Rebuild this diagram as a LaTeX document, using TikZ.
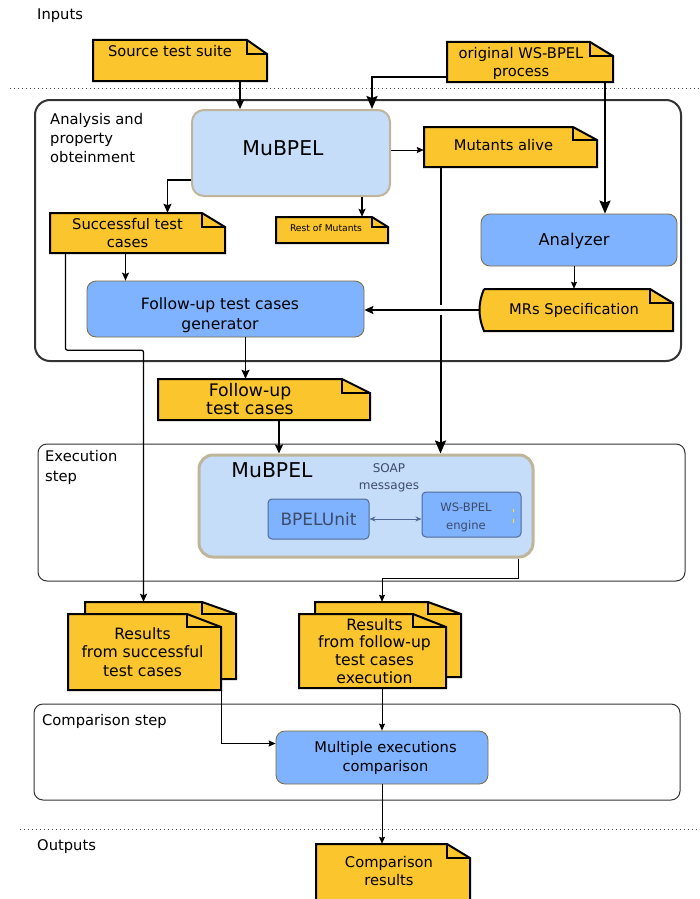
\documentclass[tikz,border=0pt]{standalone}
\usepackage{fontspec}
\setmainfont{DejaVu Sans}
\usetikzlibrary{arrows.meta,positioning,fit}

\definecolor{notey}{RGB}{251,197,45}
\definecolor{palebl}{RGB}{198,221,250}
\definecolor{tanbd}{RGB}{190,181,155}
\definecolor{boxbl}{RGB}{128,179,255}
\definecolor{boxbd}{RGB}{125,105,65}
\definecolor{unitbd}{RGB}{80,105,150}
\definecolor{unittx}{RGB}{60,75,105}

\tikzset{
  txt/.style={font=\fontsize{14.7}{18}\selectfont, align=center, inner sep=0pt},
  bigfont/.style={font=\fontsize{20.4}{24}\selectfont, inner sep=0pt},
  notebox/.style={fill=notey, draw=black, line width=2pt},
  notefold/.style={line width=1.5pt},
  pale/.style={draw=tanbd, fill=palebl, line width=2pt, rounded corners=12pt},
  bluebox/.style={txt, draw=boxbd, fill=boxbl, line width=0.8pt, rounded corners=9pt},
  unit/.style={draw=unitbd, fill=boxbl, line width=1pt, rounded corners=4pt, text=unittx, inner sep=0pt},
  soapt/.style={font=\fontsize{12}{17}\selectfont, align=center, inner sep=0pt, text=unittx},
  group/.style={draw=black!80, line width=1pt, rounded corners=9pt},
  sep/.style={black!70, line width=1pt, dash pattern=on 1pt off 3pt},
  thinarr/.style={-{Stealth[length=7pt,width=6pt,inset=1pt]}, line width=1pt},
  medarr/.style={-{Stealth[length=8pt,width=7pt,inset=1.5pt]}, line width=1.3pt},
  arr/.style={-{Stealth[length=9pt,width=8pt,inset=1.5pt]}, line width=1.6pt},
  thickarr/.style={-{Stealth[length=13pt,width=11pt,inset=2pt]}, line width=2pt}
}

% document with folded corner: [text opts]{name}{x1}{y1}{x2}{y2}{fold x}{fold y}{text}
\newcommand{\docnode}[9][]{%
  \filldraw[notebox] (#3,#4) -- ({#5-#7},#4) -- (#5,{#4+#8}) -- (#5,#6) -- (#3,#6) -- cycle;
  \draw[notefold] ({#5-#7},#4) -- ({#5-#7},{#4+#8}) -- (#5,{#4+#8});
  \node[fit={(#3,#4) (#5,#6)}, inner sep=0pt] (#2) {};
  \node[txt,#1] (#2t) at (#2.center) {#9};
}

\begin{document}
\begin{tikzpicture}[x=1pt,y=-1pt]
\useasboundingbox (0,0) rectangle (699,899);

\node[txt, anchor=west] (inlbl) at (37,16) {Inputs};
\draw[sep] (10,88) -- (699,88);
\draw[sep] (20,829) -- (699,829);
\node[txt, anchor=west] (outlbl) at (37,847) {Outputs};

\node[group, line width=2pt, rounded corners=15pt, minimum width=646pt, minimum height=261pt] (anabox) at (358,230.5) {};
\node[group, minimum width=647pt, minimum height=137pt] (exbox) at (361.5,512.5) {};
\node[group, minimum width=646pt, minimum height=96pt] (cmpbox) at (357,752) {};
\node[txt, anchor=north west, align=left, font=\fontsize{14.7}{19}\selectfont] (analbl) at (50,113) {Analysis and\\property\\obteinment};
\node[txt, anchor=north west, align=left, font=\fontsize{14.7}{20}\selectfont] (exlbl) at (45,450) {Execution\\step};
\node[txt, anchor=west] (cmplbl) at (42,721) {Comparison step};

\docnode[xshift=-10pt, yshift=9pt]{src}{93}{40}{267}{81}{20}{14}{Source test suite}
\docnode[xshift=-9pt, yshift=-1pt]{wsb}{447}{42}{613}{82}{23}{14}{original WS-BPEL\\process}

\node[pale, minimum width=198pt, minimum height=86pt] (mub) at (291,153) {};
\node[bigfont] (mubt) at (283,148) {MuBPEL};
\docnode[xshift=-7pt, yshift=2pt]{mut}{424}{127}{597}{167}{24}{13}{Mutants alive}
\docnode[xshift=-10pt]{succ}{50}{213}{225}{253}{23}{14}{Successful test\\cases}
\docnode[font=\fontsize{9.2}{10}\selectfont, xshift=-6pt, yshift=2pt]{rest}{276}{217}{388}{243}{16}{10}{Rest of Mutants}
\node[bluebox, minimum width=196pt, minimum height=52pt] (ana) at (579,240) {};
\node[txt, font=\fontsize{16.3}{20}\selectfont] (anat) at (574,241) {Analyzer};

\filldraw[notebox] (484,289) -- (650,289) -- (673,303) -- (673,331) -- (484,331)
  .. controls (478,317) and (478,303) .. (484,289);
\draw[notefold] (650,289) -- (650,303) -- (673,303);
\node[fit={(484,289) (673,331)}, inner sep=0pt] (mrs) {};
\node[txt] (mrst) at (574,310) {MRs Specification};

\node[bluebox, minimum width=277pt, minimum height=56pt] (gen) at (225.5,309) {};
\node[txt, font=\fontsize{15.6}{20}\selectfont] (gent) at (220,315) {Follow-up test cases\\generator};
\docnode[font=\fontsize{17.3}{18}\selectfont, xshift=-14pt]{fup}{158}{379}{370}{420}{28}{14}{Follow-up\\test cases}

\node[pale, line width=3pt, rounded corners=14pt, minimum width=334pt, minimum height=102pt] (exmub) at (366,506) {};
\node[bigfont] (exmubt) at (272,470) {MuBPEL};
\node[soapt] (soap) at (389,478) {SOAP\\messages};
\node[unit, minimum width=101pt, minimum height=40pt, font=\fontsize{17}{20}\selectfont] (bpu) at (318.5,519) {BPELUnit};
\node[unit, minimum width=99pt, minimum height=45pt] (eng) at (471.5,514.5) {};
\node[soapt, font=\fontsize{11.6}{18}\selectfont] (engt) at (466,517) {WS-BPEL\\engine};
\draw[yellow!90!orange, line width=0.8pt] (513,509) -- (513,512) (513,519) -- (513,523);

\docnode{res1b}{85}{602}{236}{679}{34}{12}{}
\docnode[font=\fontsize{15.6}{18.5}\selectfont, xshift=-2pt]{res1}{68}{614}{221}{690}{34}{13}{Results\\from successful\\test cases}
\docnode{res2b}{315}{602}{461}{677}{33}{12}{}
\docnode[font=\fontsize{15.6}{17.7}\selectfont, xshift=2pt]{res2}{299}{614}{446}{688}{33}{13}{Results\\from follow-up\\test cases\\execution}

\node[bluebox, minimum width=212pt, minimum height=53pt] (mult) at (382,757.5) {};
\node[txt, font=\fontsize{14.7}{19}\selectfont] (multt) at (385.5,757.5) {Multiple executions\\comparison};
\docnode[xshift=-4pt, yshift=2.5pt]{cres}{316}{844}{470}{903}{23}{14}{Comparison\\results}

\draw[arr] ([xshift=60pt]src.south) -- ([xshift=60pt]src.south |- mub.north);
\draw[thickarr] ([yshift=-15pt]wsb.west) -| ([xshift=81pt]mub.north);
\draw[thickarr] ([xshift=75pt]wsb.south) -- ([xshift=75pt]wsb.south |- ana.north);
\draw[thinarr] ([yshift=-3pt]mut.west -| mub.east) -- ([yshift=-3pt]mut.west);
\draw[arr] ([yshift=-27pt]mub.west) -| ([xshift=30pt]succ.north);
\draw[medarr] ([xshift=30pt]rest.north |- mub.south) -- ([xshift=30pt]rest.north);
\draw[thinarr] ([xshift=-5pt]ana.south) -- ([xshift=-5pt]ana.south |- mrs.north);
\draw[thickarr] ([xshift=-70pt]mut.south) -- ([xshift=-70pt]mut.south |- exmub.north);
\draw[white, line width=10pt] ([xshift=-73pt]mut.south |- mrs.west) -- ([xshift=-67pt]mut.south |- mrs.west);
\draw[arr] ([xshift=-5pt]mrs.west) -- (mrs.west -| gen.east);
\draw[medarr] ([xshift=-12pt]succ.south) -- ([xshift=-12pt]succ.south |- gen.north);
\draw[medarr, rounded corners=2pt] ([xshift=-72pt]succ.south) -- ++(0,97) -| ([xshift=-17pt]res1b.north);
\draw[arr] ([xshift=20pt]gen.south) -- ([xshift=20pt]gen.south |- fup.north);
\draw[arr] ([xshift=15pt]fup.south) -- ([xshift=15pt]fup.south |- exmub.north);
\draw[{Stealth[length=6pt,width=5pt]}-{Stealth[length=6pt,width=5pt]}, unitbd, line width=1pt] (bpu.east) -- (bpu.east -| eng.west);
\draw[thinarr] ([xshift=152pt]exmub.south) -- ++(0,20) -| ([xshift=-6pt]res2b.north);
\draw[thinarr] (res1.south east) |- ([yshift=14pt]mult.west);
\draw[thinarr] (mult.north |- res2.south) -- (mult.north);
\draw[thinarr] (mult.south) -- (mult.south |- cres.north);
\end{tikzpicture}
\end{document}
